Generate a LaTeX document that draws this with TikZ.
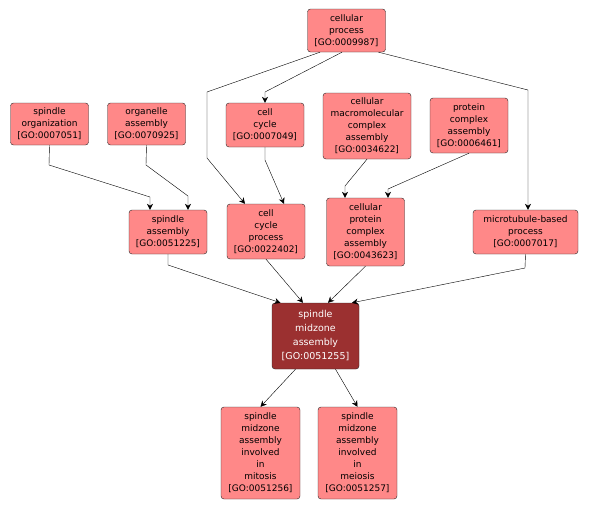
\documentclass[tikz,border=0pt]{standalone}
\usepackage{fontspec}
\setmainfont{DejaVu Sans}
\usepackage{tikz}
\usetikzlibrary{arrows.meta}
\definecolor{termFill}{RGB}{255,136,136}
\definecolor{focusFill}{RGB}{155,48,48}
\newcommand{\termFont}{\fontsize{9}{12}\selectfont}
\newcommand{\focusFont}{\fontsize{9.5}{14}\selectfont}

\begin{document}
\begin{tikzpicture}[x=1pt,y=-1pt,
  term/.style={rectangle,rounded corners=3pt,draw=black!85,fill=termFill,
    align=center,inner sep=1pt,font=\termFont,minimum width=78pt},
  focus/.style={term,fill=focusFill,text=white,font=\focusFont},
  isa/.style={draw=black,-{Stealth[length=6pt,width=6pt]}}]
\useasboundingbox (0,0) rectangle (590,509);
\node[term,minimum height=43pt] (cp) at (346.5,30.5) {cellular\\process\\{[GO:0009987]}};
\node[term,minimum height=42pt] (so) at (49.5,124) {spindle\\organization\\{[GO:0007051]}};
\node[term,minimum height=42pt] (oa) at (146.5,124) {organelle\\assembly\\{[GO:0070925]}};
\node[term,minimum height=44pt] (cc) at (265,125) {cell\\cycle\\{[GO:0007049]}};
\node[term,minimum height=66pt,minimum width=88pt] (cmca) at (367,126) {cellular\\macromolecular\\complex\\assembly\\{[GO:0034622]}};
\node[term,minimum height=55pt] (pca) at (469,125.5) {protein\\complex\\assembly\\{[GO:0006461]}};
\node[term,minimum height=44pt] (sa) at (168,232) {spindle\\assembly\\{[GO:0051225]}};
\node[term,minimum height=55pt] (ccp) at (266,231.5) {cell\\cycle\\process\\{[GO:0022402]}};
\node[term,minimum height=68pt] (cpca) at (365.5,232) {cellular\\protein\\complex\\assembly\\{[GO:0043623]}};
\node[term,minimum height=44pt,minimum width=105pt] (mbp) at (525.5,232) {microtubule-based\\process\\{[GO:0007017]}};
\node[focus,minimum height=66pt,minimum width=87pt] (sma) at (315.5,336) {spindle\\midzone\\assembly\\{[GO:0051255]}};
\node[term,minimum height=92pt,minimum width=79pt] (mit) at (260.5,453) {spindle\\midzone\\assembly\\involved\\in\\mitosis\\{[GO:0051256]}};
\node[term,minimum height=92pt,minimum width=79pt] (mei) at (357.5,453) {spindle\\midzone\\assembly\\involved\\in\\meiosis\\{[GO:0051257]}};
\draw[isa] ([xshift=-4.5]cp.south) -- (265,92) -- (cc.north);
\draw[isa] ([xshift=-26.5]cp.south) -- (207,92) -- (207,158) -- ([xshift=-21]ccp.north);
\draw[isa] ([xshift=32]cp.south) -- (528,90) -- ([xshift=2.5]mbp.north);
\draw[isa] (cc.south) -- (265,160) -- ([xshift=18]ccp.north);
\draw[isa] (so.south) -- (49,165) -- (150,197) -- ([xshift=-18]sa.north);
\draw[isa] (oa.south) -- (146,165) -- (188,196) -- ([xshift=20]sa.north);
\draw[isa] (cmca.south) -- (345,186) -- ([xshift=-20.5]cpca.north);
\draw[isa] (pca.south) -- (388,189) -- ([xshift=22.5]cpca.north);
\draw[isa] (sa.south) -- (168,265) -- ([xshift=-35]sma.north);
\draw[isa] (ccp.south) -- ([xshift=-12.5]sma.north);
\draw[isa] (cpca.south) -- ([xshift=12.5]sma.north);
\draw[isa] (mbp.south) -- (525,268) -- ([xshift=36.5]sma.north);
\draw[isa] ([xshift=-20]sma.south) -- (mit.north);
\draw[isa] ([xshift=20]sma.south) -- (mei.north);
\end{tikzpicture}
\end{document}
